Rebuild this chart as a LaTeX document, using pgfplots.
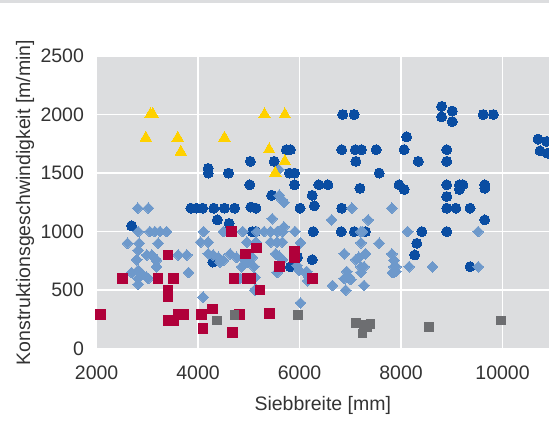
\documentclass[border=0pt]{standalone}
\usepackage{fontspec}
\setmainfont{Liberation Sans}
\usepackage{pgfplots}
\pgfplotsset{compat=1.18}
\definecolor{dblue}{HTML}{0A4DA2}
\definecolor{lblue}{HTML}{6E99CB}
\definecolor{cred}{HTML}{B0003A}
\definecolor{cgray}{HTML}{6D6E71}
\definecolor{cyell}{HTML}{FFD100}
\definecolor{bg}{HTML}{DCDDDF}
\definecolor{txt}{HTML}{333333}
\begin{document}
\begin{tikzpicture}
\begin{axis}[
  scale only axis,
  width=452.4bp, height=293bp,
  xmin=2000, xmax=10916, ymin=-3, ymax=2500,
  axis background/.style={fill=bg},
  axis line style={draw=none},
  major tick length=0pt,
  xtick={2000,4000,6000,8000,10000},
  ytick={0,500,1000,1500,2000,2500},
  scaled x ticks=false, scaled y ticks=false,
  grid=major,
  major grid style={white, line width=1.6bp},
  tick label style={font=\fontsize{19.5bp}{23bp}\selectfont, text=txt},
  /pgf/number format/assume math mode=true,
  /pgf/number format/1000 sep={},
  xticklabel style={anchor=base, inner sep=0pt, yshift=-30bp},
  yticklabel style={anchor=east, inner sep=0pt, xshift=-12.5bp},
  xlabel={Siebbreite [mm]},
  ylabel={Konstruktionsgeschwindigkeit [m/min]},
  label style={font=\fontsize{19.5bp}{23bp}\selectfont, text=txt},
  xlabel style={at={(axis description cs:0.5,-0.2116)}, anchor=base, inner sep=0pt},
  ylabel style={at={(axis description cs:-0.1472,0.5)}, anchor=base, inner sep=0pt},
  only marks,
]
\coordinate (bl) at (rel axis cs:0,0);
\coordinate (tl) at (rel axis cs:0,1);
\coordinate (tr) at (rel axis cs:1,1);
% dark blue circles
\addplot[dblue, mark=*, mark size=5bp, mark options={fill=dblue, draw=dblue, line width=0pt}] coordinates {
(6850,2000)(7075,2000)(8800,2070)(9010,2030)(8800,1980)(9010,1940)(9620,2000)(9820,2000)
(8110,1810)(10700,1790)(10870,1770)(10740,1690)(10890,1670)
(4200,1500)(4200,1540)(4600,1500)(5030,1600)(5500,1600)(5740,1700)(5820,1700)(5800,1500)(5900,1500)
(6830,1700)(7100,1700)(7220,1700)(7510,1700)(8060,1700)(8900,1700)(7110,1600)(8340,1600)(8900,1600)(7570,1500)
(5020,1400)(5900,1400)(6380,1400)(6560,1400)(7190,1370)(7960,1400)(8060,1360)(8900,1400)(9150,1400)(9220,1400)(9150,1360)(9650,1400)(9650,1370)
(5450,1310)(6250,1310)(8900,1300)
(3860,1200)(3970,1200)(4090,1200)(4310,1200)(4520,1200)(4720,1200)(5040,1210)(5140,1200)(6010,1200)(6290,1220)(6830,1200)(8900,1200)(9080,1200)(9360,1200)
(4380,1100)(4610,1070)(2690,1050)(9650,1100)
(5070,1000)(5140,1000)(6270,1000)(6820,1000)(7080,1000)(7300,1000)(8410,1000)(8900,1000)
(8310,900)(8270,800)(9360,700)(6250,760)(4290,740)(5820,700)(5890,710)(5960,780)
};
% light blue diamonds
\addplot[lblue, mark=square*, mark size=3.8bp, mark options={fill=lblue, draw=lblue, line width=0pt, rotate=45}] coordinates {
(2810,1200)(3020,1200)
(2820,1000)(3050,1000)(3150,1000)(3250,1000)(3380,1000)(4110,1000)(4500,1000)(4880,1000)(5160,1000)(5300,1000)(5430,1000)(5560,1000)(5670,1000)(5910,1000)
(7210,1000)(7240,1000)(8130,1000)(9520,1000)(5690,1040)
(5460,1110)(6630,1100)(7350,1100)(7030,1200)(7820,1200)(5600,1310)(5660,1270)(5690,1250)(5590,1530)
(2610,900)(2840,900)(3215,900)(4050,910)(4200,910)(4960,910)(5140,910)(5430,910)(5560,910)(5660,910)(6020,905)(7210,905)(7570,900)
(2820,840)(2990,800)(3085,800)(3150,770)(3180,755)(2790,760)(3610,800)(3775,800)(4200,810)(4300,800)(4400,780)(4500,755)(4430,740)
(4630,810)(4760,780)(4890,770)(4990,780)(5070,780)(5530,810)(5600,790)(5660,760)(6880,810)(7300,810)(7170,780)(7110,760)(7820,810)(7860,755)
(3180,700)(4920,725)(4860,700)(5100,700)(4970,740)(5950,710)(7270,700)(7860,700)(8160,700)(8620,700)(9520,700)(7900,700)(7210,700)
(2690,650)(2820,670)(2890,640)(2990,610)(2820,600)(3020,600)(3810,650)(4830,600)(4890,600)(4990,600)(5120,610)(5560,650)
(5990,670)(6140,660)(6120,650)(6190,610)(6160,580)(6930,660)(6980,610)(7010,590)(6880,600)(7210,650)(7860,650)(7830,650)(7900,660)
(2820,550)(5140,510)(5120,500)(6650,540)(7270,540)(6910,500)
(4100,440)(6020,390)
};
% red squares
\addplot[cred, mark=square*, mark size=4.8bp, mark options={fill=cred, draw=cred, line width=0pt}] coordinates {
(2080,290)(2510,600)(3210,600)(3510,600)(3410,800)(3410,500)(3410,440)(3410,240)(3510,240)(3610,290)(3720,290)
(4070,290)(4290,340)(4100,170)(4680,140)(4820,290)(4660,1000)(4710,600)(4970,600)(5040,600)(4940,810)(5150,860)
(5600,700)(5900,830)(5900,780)(6250,600)(5220,500)(5410,300)
};
% gray squares
\addplot[cgray, mark=square*, mark size=4.3bp, mark options={fill=cgray, draw=cgray, line width=0pt}] coordinates {
(4370,240)(4720,290)(5970,290)(7110,220)(7270,200)(7400,210)(7240,130)(7340,180)(8555,185)(9970,240)
};
% yellow triangles
\addplot[cyell, mark=triangle*, mark size=6.7bp, mark options={fill=cyell, draw=cyell, line width=0pt}] coordinates {
(3060,2000)(3110,2000)(2970,1800)(3600,1800)(3660,1680)(4520,1800)(5310,2000)(5710,2000)(5400,1700)(5710,1600)(5520,1500)
};
\end{axis}
\fill[bg] ([xshift=-96.6bp,yshift=53bp]tl) rectangle ([yshift=56bp]tr);
\pgfresetboundingbox
\path[use as bounding box] ([xshift=-96.6bp,yshift=-81bp]bl) rectangle ([yshift=56bp]tr);
\end{tikzpicture}
\end{document}
